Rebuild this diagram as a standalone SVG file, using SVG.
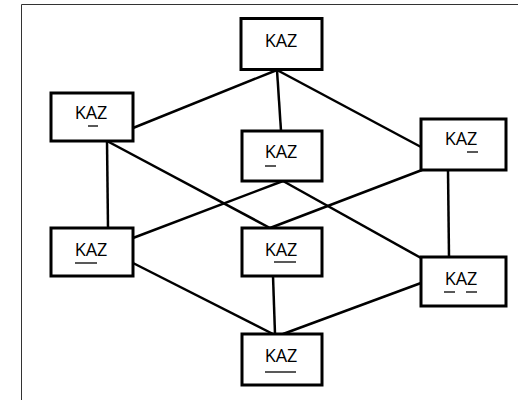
<svg xmlns="http://www.w3.org/2000/svg" width="518" height="400" viewBox="0 0 518 400">
<style>
.box{fill:#fff;stroke:#000;stroke-width:3}
.lbl{font-family:"Open Sans","DejaVu Sans",sans-serif;font-size:18px;fill:#000;text-anchor:middle}
.ul{stroke:#222;stroke-width:1.5}
.edge{stroke:#000;stroke-width:2.5;fill:none}
.frame{stroke:#333;stroke-width:1;fill:none}
</style>
<rect width="518" height="400" fill="#fff"/>
<path class="frame" d="M21.5,400 V4.5 H518"/>
<g id="connectors">
<line class="edge" x1="277" y1="70" x2="133" y2="128"/>
<line class="edge" x1="277" y1="70" x2="281" y2="131"/>
<line class="edge" x1="277" y1="70" x2="421" y2="147"/>
<line class="edge" x1="107" y1="141" x2="108" y2="228"/>
<line class="edge" x1="107" y1="141" x2="270" y2="228"/>
<line class="edge" x1="283" y1="181" x2="133" y2="238"/>
<line class="edge" x1="283" y1="181" x2="421" y2="258"/>
<line class="edge" x1="422" y1="170" x2="270" y2="228"/>
<line class="edge" x1="448" y1="170" x2="449" y2="257"/>
<line class="edge" x1="133" y1="263" x2="273" y2="334"/>
<line class="edge" x1="273" y1="276" x2="275" y2="334"/>
<line class="edge" x1="421" y1="283" x2="283" y2="334"/>
</g>
<g id="n-top">
<rect class="box" x="241" y="18.5" width="81" height="51"/>
<text class="lbl" x="281" y="47">KAZ</text>
</g>
<g id="n-a">
<rect class="box" x="51" y="93" width="82" height="48"/>
<text class="lbl" x="91" y="119">KAZ</text>
<line class="ul" x1="88" y1="126" x2="98" y2="126"/>
</g>
<g id="n-k">
<rect class="box" x="242" y="131" width="80" height="50"/>
<text class="lbl" x="281" y="158">KAZ</text>
<line class="ul" x1="265" y1="166" x2="276" y2="166"/>
</g>
<g id="n-z">
<rect class="box" x="421" y="119" width="85" height="51"/>
<text class="lbl" x="461" y="145">KAZ</text>
<line class="ul" x1="467" y1="152" x2="478" y2="152"/>
</g>
<g id="n-ka">
<rect class="box" x="51" y="228" width="82" height="48"/>
<text class="lbl" x="91" y="256">KAZ</text>
<line class="ul" x1="75" y1="263" x2="97" y2="263"/>
</g>
<g id="n-az">
<rect class="box" x="242" y="228" width="80" height="48"/>
<text class="lbl" x="281" y="256">KAZ</text>
<line class="ul" x1="274" y1="262" x2="296" y2="262"/>
</g>
<g id="n-kz">
<rect class="box" x="421" y="257" width="85" height="49"/>
<text class="lbl" x="461" y="285">KAZ</text>
<line class="ul" x1="444" y1="292" x2="455" y2="292"/>
<line class="ul" x1="466" y1="292" x2="477" y2="292"/>
</g>
<g id="n-kaz">
<rect class="box" x="242" y="334" width="80" height="51"/>
<text class="lbl" x="281" y="362">KAZ</text>
<line class="ul" x1="265" y1="372" x2="296" y2="372"/>
</g>
</svg>
